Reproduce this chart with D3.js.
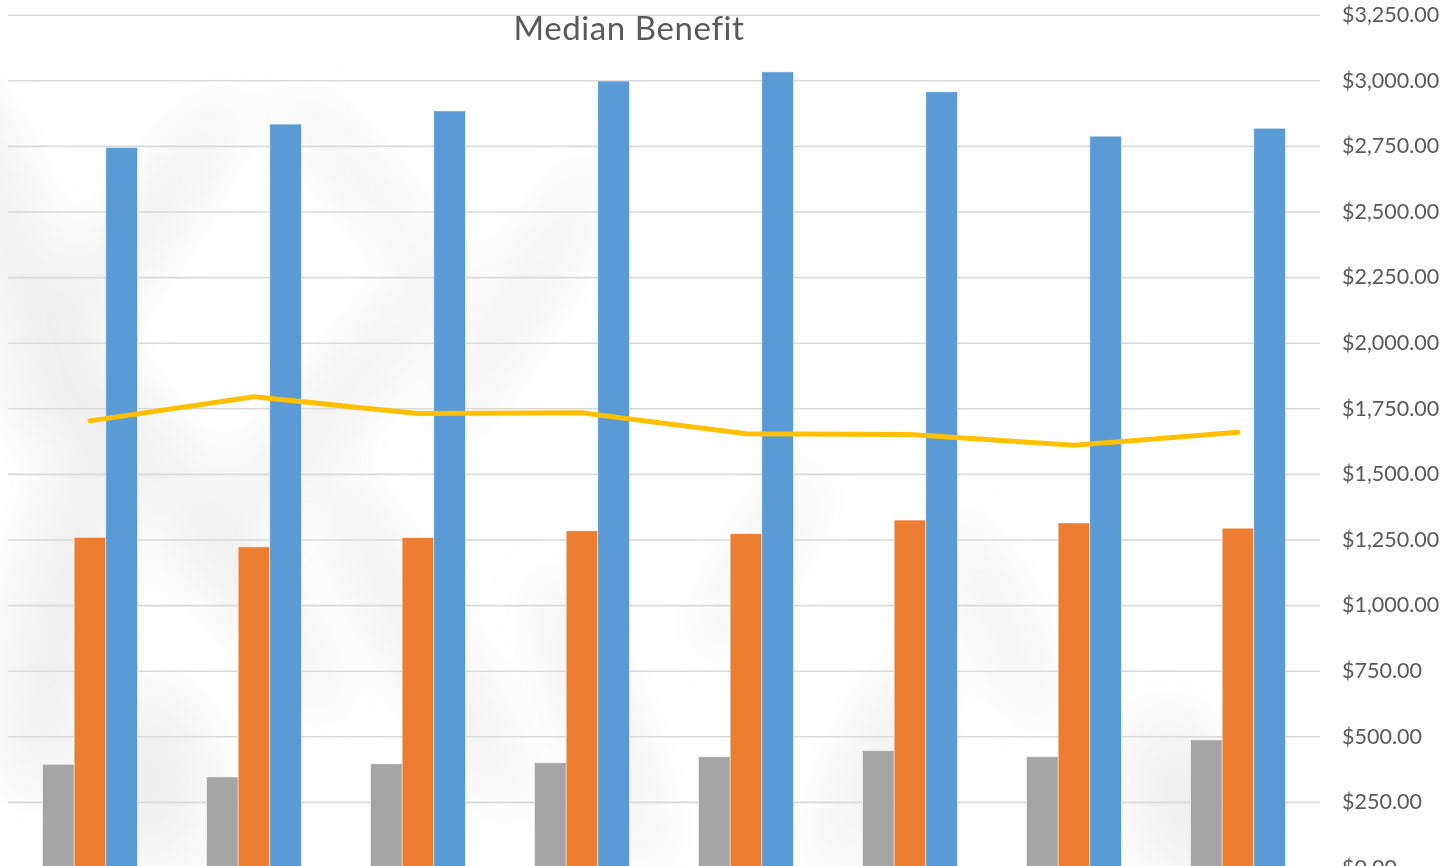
<!DOCTYPE html>
<html>
<head>
<meta charset="utf-8">
<title>Median Benefit</title>
<script src="https://cdn.jsdelivr.net/npm/d3@7/dist/d3.min.js"></script>
<style>
  html, body { margin: 0; padding: 0; background: #ffffff; }
  svg { display: block; }
  text { font-family: Lato, "Open Sans", "Noto Sans", sans-serif; fill: #595959; }
</style>
</head>
<body>
<svg id="chart" width="1441" height="866"></svg>
<script>
// Eight periods, three bar series and one line series
const periods = ["P1", "P2", "P3", "P4", "P5", "P6", "P7", "P8"];
const lowBenefit    = [393, 345, 395, 399, 422, 445, 422, 486];
const midBenefit    = [1258, 1222, 1257, 1283, 1272, 1324, 1313, 1293];
const highBenefit   = [2744, 2833, 2883, 2997, 3032, 2956, 2787, 2817];
const medianBenefit = [1702, 1794, 1730, 1733, 1653, 1650, 1609, 1659];
const yTicks = d3.range(0, 3251, 250);
const chartTitle = "Median Benefit";

const barSeries = [
  { key: "low",  values: lowBenefit,  color: "#A5A5A5" },
  { key: "mid",  values: midBenefit,  color: "#ED7D31" },
  { key: "high", values: highBenefit, color: "#5B9BD5" }
];

const svg = d3.select("#chart");
const plot = { left: 8, right: 1320, top: 14.7, bottom: 867.5 };

// soft shadowy backdrop
const defs = svg.append("defs");
defs.append("filter").attr("id", "soft")
  .attr("x", "-50%").attr("y", "-50%").attr("width", "200%").attr("height", "200%")
  .append("feGaussianBlur").attr("stdDeviation", 28);

svg.append("rect").attr("width", 1441).attr("height", 866).attr("fill", "#ffffff");
const haze = svg.append("g").attr("filter", "url(#soft)").attr("opacity", 0.32);
const blobs = [
  [30, 300, 40, 260, -20], [120, 260, 28, 200, 35], [200, 520, 30, 240, -35],
  [60, 620, 45, 180, 10], [320, 420, 26, 220, 40], [420, 640, 30, 200, -30],
  [150, 780, 60, 90, 0], [520, 300, 22, 160, 30], [600, 720, 26, 160, -20],
  [880, 760, 30, 120, 25], [1180, 800, 50, 90, -15], [360, 180, 18, 120, -40],
  [760, 560, 20, 110, 30], [1000, 620, 20, 120, -25]
];
haze.selectAll("ellipse").data(blobs).join("ellipse")
  .attr("cx", d => d[0]).attr("cy", d => d[1])
  .attr("rx", d => d[2]).attr("ry", d => d[3])
  .attr("transform", d => `rotate(${d[4]},${d[0]},${d[1]})`)
  .attr("fill", "#cfcfcf");

const x0 = d3.scaleBand().domain(periods)
  .range([plot.left, plot.right]).paddingInner(0.422).paddingOuter(0.211);
const x1 = d3.scaleBand().domain(barSeries.map(s => s.key))
  .range([0, x0.bandwidth()]);
const y = d3.scaleLinear().domain([0, 3250]).range([plot.bottom, plot.top]);

// gridlines and value labels on the right
const axis = d3.axisRight(y)
  .tickValues(yTicks)
  .tickFormat(d3.format("$,.2f"))
  .tickSizeInner(-(plot.right - plot.left))
  .tickSizeOuter(0)
  .tickPadding(22);

const gAxis = svg.append("g")
  .attr("transform", `translate(${plot.right},0)`)
  .call(axis);
gAxis.select(".domain").remove();
gAxis.selectAll(".tick line").attr("stroke", "#d9d9d9").attr("stroke-width", 1.6);
gAxis.selectAll(".tick text")
  .attr("font-size", 21.5)
  .attr("fill", "#595959")
  .style("font-family", "Lato, 'Open Sans', sans-serif");

// clustered bars
const groups = svg.append("g").selectAll("g")
  .data(periods).join("g")
  .attr("transform", d => `translate(${x0(d)},0)`);

groups.selectAll("rect")
  .data((p, i) => barSeries.map(s => ({ key: s.key, value: s.values[i], color: s.color })))
  .join("rect")
  .attr("x", d => x1(d.key))
  .attr("width", x1.bandwidth())
  .attr("y", d => y(d.value))
  .attr("height", d => y(0) - y(d.value))
  .attr("fill", d => d.color)
  .attr("stroke", "#ffffff")
  .attr("stroke-opacity", 0.55)
  .attr("stroke-width", 0.8);

// median line across group centres
const line = d3.line()
  .x((d, i) => x0(periods[i]) + x0.bandwidth() / 2)
  .y(d => y(d));

svg.append("path")
  .datum(medianBenefit)
  .attr("d", line)
  .attr("fill", "none")
  .attr("stroke", "#FFC000")
  .attr("stroke-width", 5)
  .attr("stroke-linecap", "round")
  .attr("stroke-linejoin", "round");

// title
svg.append("text")
  .attr("x", 629)
  .attr("y", 40)
  .attr("text-anchor", "middle")
  .attr("font-size", 33)
  .attr("letter-spacing", 0.6)
  .attr("fill", "#595959")
  .text(chartTitle);
</script>
</body>
</html>
